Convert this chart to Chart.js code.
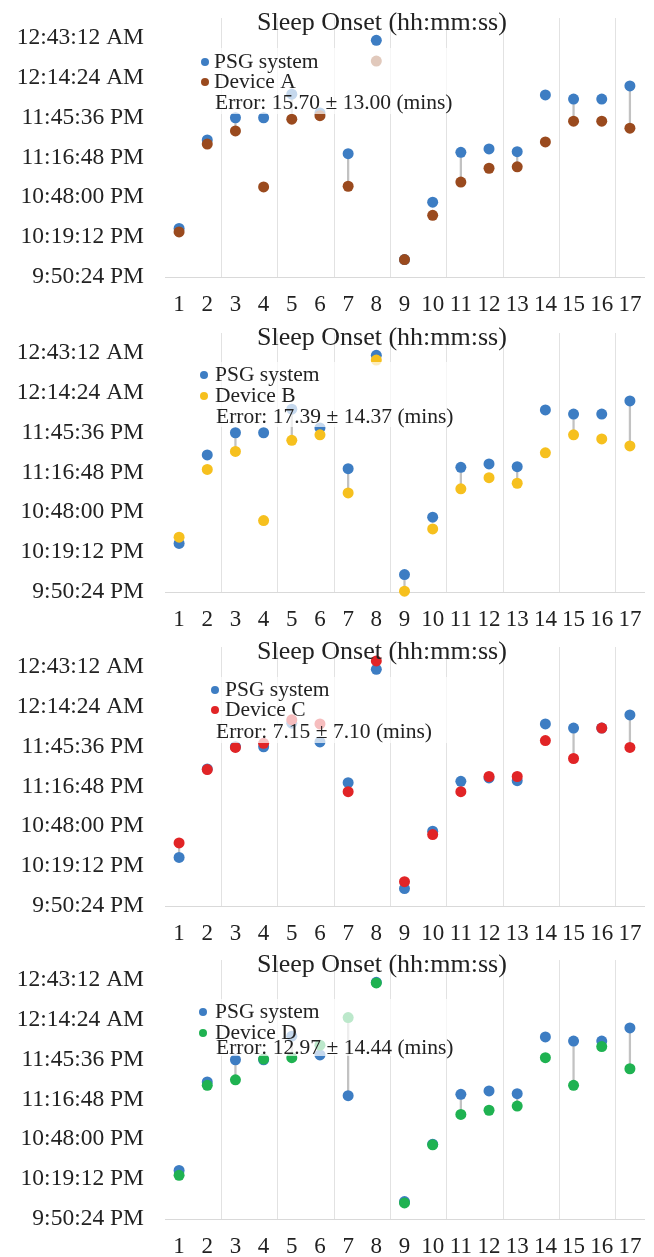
<!DOCTYPE html>
<html><head><meta charset="utf-8">
<script src="https://cdn.jsdelivr.net/npm/chart.js@4.4.1/dist/chart.umd.min.js"></script>
<style>
html,body{margin:0;padding:0;background:#fff;width:654px;height:1257px;overflow:hidden;position:relative;}
canvas.panel{position:absolute;left:0;}
</style></head><body>
<canvas id="p0" class="panel" width="654" height="315" style="top:0px"></canvas>
<canvas id="p1" class="panel" width="654" height="315" style="top:315px"></canvas>
<canvas id="p2" class="panel" width="654" height="315" style="top:629px"></canvas>
<canvas id="p3" class="panel" width="654" height="315" style="top:942px"></canvas>
<script>
// ---------------- DATA ----------------
const categories = ['1','2','3','4','5','6','7','8','9','10','11','12','13','14','15','16','17'];
const yTickLabels = ['9:50:24 PM','10:19:12 PM','10:48:00 PM','11:16:48 PM','11:45:36 PM','12:14:24 AM','12:43:12 AM'];
const yAxisMin = '9:50:24 PM';
const yAxisMax = '12:57:36 AM';
const chartTitle = 'Sleep Onset (hh:mm:ss)';
const psgLabel = 'PSG system';
const psgOnset = ['22:25:30','23:29:30','23:45:30','23:45:30','00:02:30','23:49','23:19:30','00:41:30','22:03','22:44:30','23:20:30','23:23','23:21','00:02','23:59','23:59','00:08:30'];
const deviceNames = ['Device A','Device B','Device C','Device D'];
const deviceAOnset = ['22:23','23:26:30','23:36','22:55:30','23:44:30','23:47','22:56','00:26:30','22:03','22:35','22:59','23:09','23:10','23:28','23:43','23:43','23:38'];
const deviceBOnset = ['22:30','23:19','23:32','22:42','23:40','23:44','23:02','00:38','21:51','22:36','23:05','23:13','23:09','23:31','23:44','23:41','23:36'];
const deviceCOnset = ['22:36','23:29','23:45','23:48','00:05','00:02','23:13','00:47:30','22:08','22:42','23:13','23:24','23:24','23:50','23:37','23:59','23:45'];
const deviceDOnset = ['22:22','23:27','23:31','23:46','23:47','23:56','00:16','00:41','22:02','22:44','23:06','23:09','23:12','23:47','23:27','23:55','23:39'];
const errorTexts = ['Error: 15.70 \u00b1 13.00 (mins)','Error: 17.39 \u00b1 14.37 (mins)','Error: 7.15 \u00b1 7.10 (mins)','Error: 12.97 \u00b1 14.44 (mins)'];

// ---------------- STYLE ----------------
const psgColor = '#3D7DC3';
const deviceColors = ['#9A4A1E','#F6C01E','#E12426','#1FB251'];
const fontFamily = '"Liberation Serif","Times New Roman",serif';
const textColor = '#222222';
const panelHeight = 315;
const legendLayouts = [
  {markerX:205, textX:214, rows:[62,82,103], errX:215, box:[195,48,464,114]},
  {markerX:204, textX:215, rows:[60,81,102], errX:216, box:[195,47,464,112]},
  {markerX:215, textX:225, rows:[61,81,103], errX:216, box:[195,48,464,114]},
  {markerX:203, textX:215, rows:[70,91,106], errX:216, box:[195,57,464,114]}
];

function toMinutes(s){
  const m = s.trim().match(/^(\d+):(\d+)(?::(\d+))?\s*(AM|PM)?$/i);
  let h = +m[1]; const mi = +m[2]; const se = +(m[3]||0);
  if (m[4]) { const pm = m[4].toUpperCase()==='PM'; if (h===12) h = pm?12:0; else if (pm) h += 12; }
  let v = h*60 + mi + se/60;
  if (h < 12) v += 1440;
  return v;
}
const yTickValues = yTickLabels.map(toMinutes);
const deviceSeries = [deviceAOnset, deviceBOnset, deviceCOnset, deviceDOnset];

function makeChart(idx){
  const dev = deviceSeries[idx].map(toMinutes);
  const psg = psgOnset.map(toMinutes);
  const lay = legendLayouts[idx];
  const overlay = {
    id:'overlay'+idx,
    afterDraw(chart){
      const ctx = chart.ctx;
      ctx.save();
      const b = lay.box;
      ctx.fillStyle = 'rgba(255,255,255,0.7)';
      ctx.fillRect(b[0], b[1], b[2]-b[0], b[3]-b[1]);
      ctx.fillStyle = textColor;
      ctx.font = '26px ' + fontFamily;
      ctx.textBaseline = 'middle';
      ctx.textAlign = 'left';
      ctx.fillText(chartTitle, 257, 23);
      ctx.font = '21.5px ' + fontFamily;
      const items = [[psgColor, psgLabel],[deviceColors[idx], deviceNames[idx]]];
      items.forEach((it,k)=>{
        ctx.fillStyle = it[0];
        ctx.beginPath(); ctx.arc(lay.markerX, lay.rows[k], 4, 0, Math.PI*2); ctx.fill();
        ctx.fillStyle = textColor;
        ctx.fillText(it[1], lay.textX, lay.rows[k]);
      });
      ctx.fillText(errorTexts[idx], lay.errX, lay.rows[2]);
      ctx.restore();
    }
  };
  return new Chart(document.getElementById('p'+idx), {
    data:{
      labels: categories,
      datasets:[
        {type:'bar', label:'diff', data: psg.map((p,i)=> i%2===0 ? [p, dev[i]] : null), backgroundColor:'#C2C2C2', barThickness:1.6, order:3},
        {type:'line', label:psgLabel, data: psg, showLine:false, pointRadius:5.5, pointBorderWidth:0, pointBackgroundColor:psgColor, pointBorderColor:psgColor, clip:false, order:2},
        {type:'line', label:deviceNames[idx], data: dev, showLine:false, pointRadius:5.5, pointBorderWidth:0, pointBackgroundColor:deviceColors[idx], pointBorderColor:deviceColors[idx], clip:false, order:1}
      ]
    },
    options:{
      responsive:false, animation:false, events:[], devicePixelRatio:1,
      layout:{padding:{top:18,right:10,bottom:0,left:0}, autoPadding:false},
      plugins:{legend:{display:false}, tooltip:{enabled:false}, title:{display:false}},
      scales:{
        x:{
          type:'category', offset:true,
          grid:{offset:true, drawTicks:false, lineWidth:1,
            color:(c)=> (c.index>0 && c.index<categories.length && c.index%2===0) ? '#E2E2E2' : 'rgba(0,0,0,0)'},
          border:{display:true, color:'#D9D9D9', width:1},
          ticks:{font:{family:fontFamily, size:23}, color:textColor, padding:14, maxRotation:0, autoSkip:false},
          afterFit:(s)=>{ s.height = panelHeight - 277; s.paddingLeft=0; s.paddingRight=0; s.paddingTop=0; s.paddingBottom=0; }
        },
        y:{
          type:'linear', bounds:'data',
          min: toMinutes(yAxisMin), max: toMinutes(yAxisMax),
          grid:{display:false, drawTicks:false},
          border:{display:false},
          ticks:{font:{family:fontFamily, size:23.5}, color:textColor, padding:21,
            callback:(v)=>{ const i = yTickValues.findIndex(t=>Math.abs(t-v)<0.01); return i>=0 ? yTickLabels[i] : ''; }},
          afterBuildTicks:(s)=>{ s.ticks = yTickValues.map(v=>({value:v})); },
          afterFit:(s)=>{ s.width = 165; s.paddingLeft=0; s.paddingRight=0; s.paddingTop=0; s.paddingBottom=0; }
        }
      }
    },
    plugins:[overlay]
  });
}
[0,1,2,3].forEach(makeChart);
</script>
</body></html>
